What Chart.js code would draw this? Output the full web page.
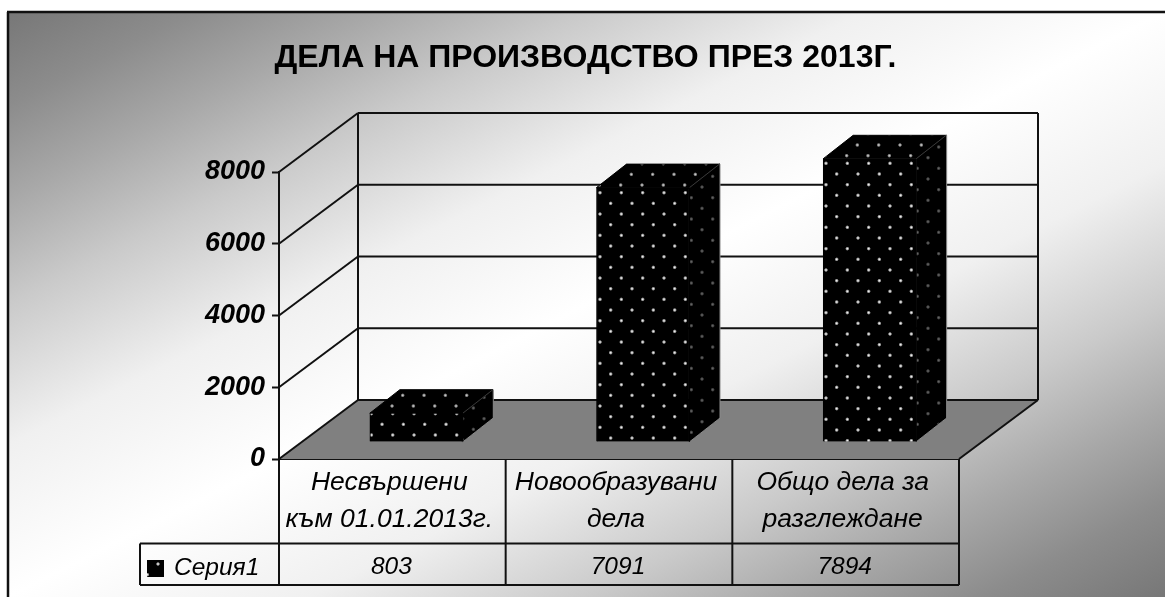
<!DOCTYPE html>
<html><head><meta charset="utf-8">
<style>html,body{margin:0;padding:0;background:#fff;overflow:hidden}canvas{display:block}</style>
<script src="https://cdn.jsdelivr.net/npm/chart.js@4/dist/chart.umd.js"></script>
</head><body>
<canvas id="c" width="1165" height="597"></canvas>
<script>
const chartTitle = 'ДЕЛА НА ПРОИЗВОДСТВО ПРЕЗ 2013Г.';
const categories = [['Несвършени','към 01.01.2013г.'],['Новообразувани','дела'],['Общо дела за','разглеждане']];
const seriesName = 'Серия1';
const seriesValues = [803, 7091, 7894];
const yMax = 8000, yStep = 2000;

const FONT = '"Liberation Sans", Arial, sans-serif';
const WALL = {dx: 79, dy: -59};          // depth of the chart box
const BAR  = {dx: 30, dy: -23.5, ox: 24, oy: -17};   // depth of each bar, and its inset in the box
const LINE = '#111';

function dotTile(alpha){
  const t = document.createElement('canvas'); t.width = t.height = 64;
  const g = t.getContext('2d');
  g.fillStyle = '#000'; g.fillRect(0,0,64,64);
  for (const [x,y] of [[0,0],[64,0],[0,64],[64,64],[32,32]]){
    const r = g.createRadialGradient(x,y,0,x,y,6.5);
    r.addColorStop(0,`rgba(255,255,255,${alpha})`);
    r.addColorStop(.45,`rgba(225,225,225,${alpha*.8})`);
    r.addColorStop(1,'rgba(255,255,255,0)');
    g.fillStyle = r; g.beginPath(); g.arc(x,y,6.5,0,7); g.fill();
  }
  return t;
}
const ctx0 = document.getElementById('c').getContext('2d');
function pat(alpha,x,y){
  const p = ctx0.createPattern(dotTile(alpha),'repeat');
  p.setTransform(new DOMMatrix().translate(x,y).scale(1/3));
  return p;
}
const phases = [[392.7,435],[600,192.7],[826,398]];
const frontPats = phases.map(([x,y])=>pat(1,x-BAR.ox,y-BAR.oy));
const topPats   = phases.map(([x,y])=>pat(.85,x+10,y+3));
const sidePats  = phases.map(([x,y])=>pat(.42,x+6,y+5));

function poly(c,pts,fill,stroke,lw){
  c.beginPath(); pts.forEach(([x,y],i)=>i?c.lineTo(x,y):c.moveTo(x,y)); c.closePath();
  if(fill){c.fillStyle=fill;c.fill();}
  if(stroke){c.strokeStyle=stroke;c.lineWidth=lw||1;c.stroke();}
}
function seg(c,x1,y1,x2,y2,col,lw){
  c.beginPath();c.moveTo(x1,y1);c.lineTo(x2,y2);c.strokeStyle=col||LINE;c.lineWidth=lw||2;c.stroke();
}

const scene = {
  id:'scene',
  beforeDraw(ch){
    const c=ch.ctx, X=8, Y=12, W=ch.width-X, H=ch.height-Y;
    c.save();
    const cx=X+W/2, cy=Y+H/2, L=Math.hypot(W,H), dx=H/L, dy=W/L;
    const t=(X-cx)*dx+(Y-cy)*dy;
    const g=c.createLinearGradient(cx+dx*t,cy+dy*t,cx-dx*t,cy-dy*t);
    [[0,'#777777'],[.08,'#8c8c8c'],[.16,'#a8a8a8'],[.25,'#cacaca'],[.37,'#f0f0f0'],[.5,'#ffffff'],
     [.63,'#f0f0f0'],[.75,'#cacaca'],[.84,'#a8a8a8'],[.92,'#8c8c8c'],[1,'#777777']].forEach(s=>g.addColorStop(s[0],s[1]));
    c.fillStyle=g; c.fillRect(X,Y,W,H);
    seg(c,X,ch.height,X,Y,'#111',2.5); seg(c,X-1,Y,ch.width,Y,'#111',2.5);
    c.restore();
  },
  beforeDatasetsDraw(ch){
    const c=ch.ctx, a=ch.chartArea, ys=ch.scales.y, xs=ch.scales.x;
    const l=a.left, r=a.right, b=a.bottom, t=a.top, dx=WALL.dx, dy=WALL.dy;
    c.save();
    poly(c,[[l,b],[r,b],[r+dx,b+dy],[l+dx,b+dy]],'#808080');
    ys.ticks.forEach(k=>{
      const y=ys.getPixelForValue(k.value);
      seg(c,l,y,l+dx,y+dy); seg(c,l+dx,y+dy,r+dx,y+dy);
    });
    seg(c,l+dx,t+dy,l+dx,b+dy); seg(c,r+dx,t+dy,r+dx,b+dy); seg(c,r,b,r+dx,b+dy);

    // table
    const tb=543.5, rb=585, kl=140;
    seg(c,kl,tb,r,tb); seg(c,kl,rb,r,rb); seg(c,kl,tb,kl,rb); 
    const step=(r-l)/categories.length;
    for(let i=0;i<=categories.length;i++){ const x=l+i*step; seg(c,x,b,x,rb); }
    c.fillStyle='#000'; c.textBaseline='middle'; c.textAlign='center';
    c.font='italic 24.5px '+FONT;
    seriesValues.forEach((v,i)=>c.fillText(String(v),xs.getPixelForValue(i)-1,567));
    c.textAlign='left'; c.fillText(seriesName,174,568);
    c.fillStyle=pat(1,158,564); c.fillRect(147,560,17,17);

    // 3D faces of the bars
    ch.getDatasetMeta(0).data.forEach((p,i)=>{
      const L=p.x-p.width/2+BAR.ox, R=p.x+p.width/2+BAR.ox, T=p.y+BAR.oy, B=p.base+BAR.oy, d=BAR.dx, e=BAR.dy;
      poly(c,[[L,T],[L+d,T+e],[R+d,T+e],[R,T]],topPats[i],'#000',1);
      poly(c,[[R,T],[R+d,T+e],[R+d,B+e],[R,B]],sidePats[i],'#000',1);
      seg(c,R,T,R+d,T+e,'#3a3a3a',1);
      seg(c,R+d+.5,T+e,R+d+.5,B+e,'#8a8a8a',1);
      seg(c,R+.5,B,R+d+.5,B+e,'#8a8a8a',1);
    });
    c.restore();
    c.save(); c.translate(BAR.ox,BAR.oy);
  },
  afterDatasetsDraw(ch){ ch.ctx.restore(); }
};

new Chart(document.getElementById('c'),{
  type:'bar',
  plugins:[scene],
  data:{labels:categories,datasets:[{
    label:seriesName,data:seriesValues,yAxisID:'y',
    backgroundColor:frontPats,borderColor:'#000',borderWidth:1,barThickness:93,clip:false
  }]},
  options:{
    responsive:false,animation:false,events:[],
    layout:{padding:{left:6,right:0,top:0,bottom:0}},
    plugins:{
      legend:{display:false},tooltip:{enabled:false},
      title:{display:true,text:chartTitle,color:'#000',align:'center',
        font:{family:FONT,size:32,weight:'bold',lineHeight:1.2},padding:{top:39,bottom:94.6}}
    },
    scales:{
      x:{
        grid:{display:false,drawTicks:false},
        border:{display:true,color:LINE,width:2},
        ticks:{color:'#000',maxRotation:0,minRotation:0,autoSkip:false,padding:5,labelOffset:-3,
          font:{family:FONT,size:26.5,style:'italic',lineHeight:1.4}},
        afterFit(s){s.height=138;}
      },
      y:{
        min:0,max:yMax,
        grid:{drawOnChartArea:false,drawTicks:true,tickLength:7,tickColor:LINE,tickWidth:2},
        border:{display:true,color:LINE,width:2},
        ticks:{stepSize:yStep,color:'#000',padding:7,callback:v=>String(v),
          font:{family:FONT,size:27,style:'italic',weight:'bold'}},
        afterFit(s){s.width=273;}
      },
      y2:{
        position:'right',min:0,max:1,
        grid:{display:false},border:{display:false},ticks:{display:false},
        afterFit(s){s.width=206;}
      }
    }
  }
});
</script>
</body></html>
